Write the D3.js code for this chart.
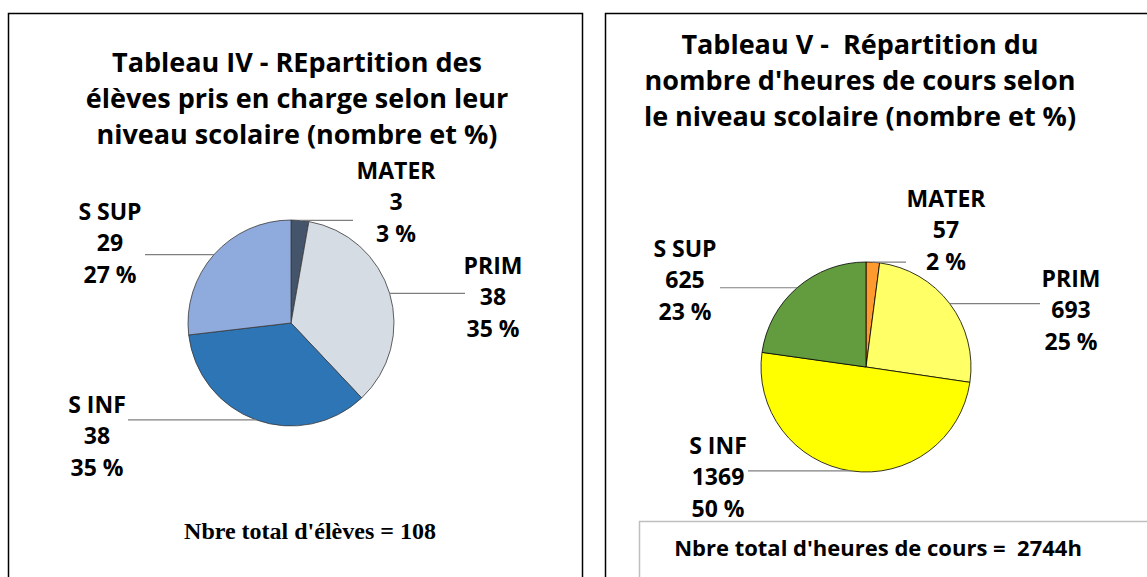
<!DOCTYPE html>
<html lang="fr">
<head>
  <meta charset="UTF-8">
  <title>Tableaux IV et V</title>
  <script src="https://d3js.org/d3.v7.min.js"></script>
  <style>
    body { margin: 0; background: #fff; }
    text { white-space: pre; }
    .title { font-family: "Open Sans", "Noto Sans", sans-serif; font-weight: bold; font-size: 27px; fill: #000; }
    .lbl { font-family: "Open Sans", "Noto Sans", sans-serif; font-weight: bold; font-size: 23px; fill: #000; }
    .leader { stroke: #7f7f7f; stroke-width: 1.2; fill: none; }
  </style>
</head>
<body>
  <svg width="1147" height="577"></svg>

  <script>
    // categories, in Excel order (clockwise from 12 o'clock)
    var categories = ["MATER", "PRIM", "S INF", "S SUP"];

    // Tableau IV - eleves
    var eleves = [3, 38, 38, 29];
    var elevesColors = ["#44546a", "#d6dce4", "#2e75b6", "#8faadc"];
    var elevesTitle = ["Tableau IV - REpartition des", "élèves pris en charge selon leur", "niveau scolaire (nombre et %)"];

    // Tableau V - heures
    var heures = [57, 693, 1369, 625];
    var heuresColors = ["#ff9a2e", "#ffff66", "#ffff00", "#629c3e"];
    var heuresTitle = ["Tableau V -  Répartition du", "nombre d'heures de cours selon", "le niveau scolaire (nombre et %)"];

    var svg = d3.select("svg");
    svg.append("rect").attr("width", 1147).attr("height", 577).attr("fill", "#fff");

    // panel borders
    svg.append("rect").attr("x", 8.5).attr("y", 13.5).attr("width", 574).attr("height", 620)
        .attr("fill", "none").attr("stroke", "#000").attr("stroke-width", 1.5);
    svg.append("rect").attr("x", 605.5).attr("y", 13.5).attr("width", 620).attr("height", 620)
        .attr("fill", "none").attr("stroke", "#000").attr("stroke-width", 1.5);

    function drawPie(cfg) {
      var g = svg.append("g");
      var total = d3.sum(cfg.values);
      var data = cfg.values.map(function(v, i) { return { name: categories[i], value: v, color: cfg.colors[i] }; });

      // title
      g.selectAll(".title").data(cfg.title).enter().append("text")
          .attr("class", "title")
          .attr("x", cfg.titleX)
          .attr("y", function(d, i) { return cfg.titleY + i * 36; })
          .attr("text-anchor", "middle")
          .text(function(d) { return d; });

      var pie = d3.pie().sort(null).value(function(d) { return d.value; });
      var arc = d3.arc().innerRadius(0).outerRadius(cfg.r);
      var arcs = pie(data);

      var pg = g.append("g").attr("transform", "translate(" + cfg.cx + "," + cfg.cy + ")");
      pg.selectAll("path").data(arcs).enter().append("path")
          .attr("d", arc)
          .attr("fill", function(d) { return d.data.color; })
          .attr("stroke", cfg.stroke)
          .attr("stroke-width", cfg.strokeWidth);

      // leader lines: horizontal from the arc's mid point to the label
      arcs.forEach(function(a, i) {
        var mid = (a.startAngle + a.endAngle) / 2;
        var x0 = cfg.cx + cfg.r * Math.sin(mid);
        var y0 = cfg.cy - cfg.r * Math.cos(mid);
        var lab = cfg.labels[i];
        g.append("line").attr("class", "leader")
            .attr("stroke", cfg.leaderColor)
            .attr("x1", x0).attr("y1", y0)
            .attr("x2", lab.lineEnd).attr("y2", y0);

        var lines = [a.data.name, String(a.data.value), Math.round(a.data.value / total * 100) + " %"];
        g.selectAll(null).data(lines).enter().append("text")
            .attr("class", "lbl")
            .attr("x", lab.x)
            .attr("y", function(d, k) { return lab.y + k * 31.5; })
            .attr("text-anchor", "middle")
            .text(function(d) { return d; });
      });
    }

    drawPie({
      values: eleves, colors: elevesColors, title: elevesTitle,
      titleX: 297, titleY: 72,
      cx: 291, cy: 323, r: 103,
      stroke: "#3a3a3a", strokeWidth: 0.8, leaderColor: "#7f7f7f",
      labels: [
        { x: 396, y: 178.5, lineEnd: 353 },
        { x: 493, y: 273.5, lineEnd: 465 },
        { x: 97, y: 412.5, lineEnd: 128 },
        { x: 110, y: 219.5, lineEnd: 145 }
      ]
    });

    drawPie({
      values: heures, colors: heuresColors, title: heuresTitle,
      titleX: 860, titleY: 53.5,
      cx: 866, cy: 367, r: 105,
      stroke: "#000", strokeWidth: 0.8, leaderColor: "#000",
      labels: [
        { x: 946, y: 206.5, lineEnd: 906 },
        { x: 1071, y: 286.5, lineEnd: 1040 },
        { x: 718, y: 453.5, lineEnd: 748 },
        { x: 685, y: 256.5, lineEnd: 720 }
      ]
    });

    // footers
    svg.append("text")
        .attr("x", 310).attr("y", 539)
        .attr("text-anchor", "middle")
        .style("font-family", "'Liberation Serif', 'Times New Roman', serif")
        .style("font-weight", "bold").style("font-size", "24px")
        .text("Nbre total d'élèves = " + d3.sum(eleves));

    svg.append("rect").attr("x", 639.5).attr("y", 521.5).attr("width", 540).attr("height", 60)
        .attr("fill", "#fff").attr("stroke", "#bfbfbf").attr("stroke-width", 1.5);
    svg.append("text")
        .attr("x", 878).attr("y", 556)
        .attr("text-anchor", "middle")
        .attr("class", "lbl")
        .style("font-size", "22px")
        .text("Nbre total d'heures de cours =  " + d3.sum(heures) + "h");
  </script>
</body>
</html>
